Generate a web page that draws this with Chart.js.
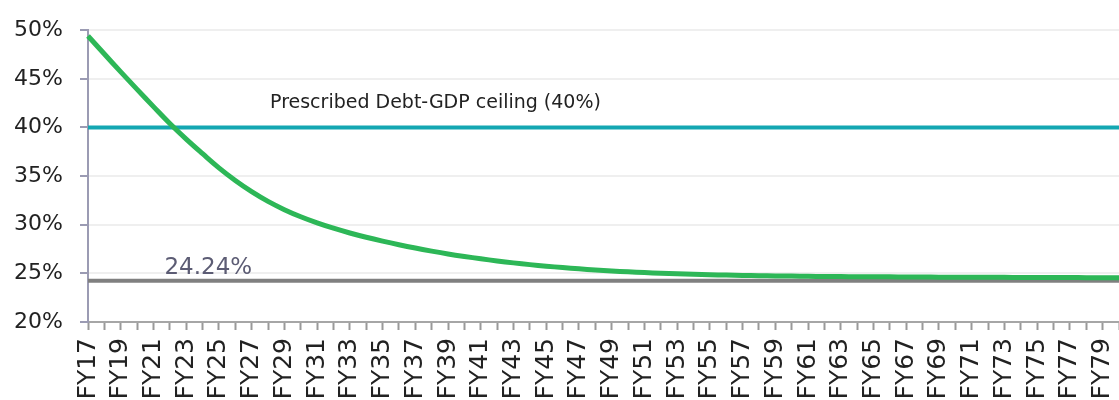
<!DOCTYPE html>
<html>
<head>
<meta charset="utf-8">
<script src="https://cdn.jsdelivr.net/npm/chart.js@4"></script>
<style>
  body { margin: 0; overflow: hidden; background: #fff; }
</style>
</head>
<body>
<canvas id="debtChart" width="1157" height="432"></canvas>
<script>
// Debt-GDP path, FY17 to FY80
const years = [
  'FY17','FY18','FY19','FY20','FY21','FY22','FY23','FY24','FY25','FY26',
  'FY27','FY28','FY29','FY30','FY31','FY32','FY33','FY34','FY35','FY36',
  'FY37','FY38','FY39','FY40','FY41','FY42','FY43','FY44','FY45','FY46',
  'FY47','FY48','FY49','FY50','FY51','FY52','FY53','FY54','FY55','FY56',
  'FY57','FY58','FY59','FY60','FY61','FY62','FY63','FY64','FY65','FY66',
  'FY67','FY68','FY69','FY70','FY71','FY72','FY73','FY74','FY75','FY76',
  'FY77','FY78','FY79','FY80'
];
const debtPath = [
  49.4, 47.55, 45.72, 43.92, 42.14, 40.4, 38.8, 37.3, 35.85, 34.55,
  33.4, 32.4, 31.55, 30.82, 30.19, 29.64, 29.15, 28.71, 28.31, 27.94,
  27.6, 27.29, 27.0, 26.74, 26.5, 26.28, 26.08, 25.9, 25.74, 25.6,
  25.47, 25.35, 25.25, 25.16, 25.08, 25.01, 24.95, 24.9, 24.86, 24.82,
  24.79, 24.76, 24.74, 24.72, 24.7, 24.68, 24.67, 24.66, 24.65, 24.64,
  24.63, 24.62, 24.61, 24.61, 24.6, 24.59, 24.59, 24.58, 24.58, 24.57,
  24.57, 24.56, 24.56, 24.55
];
const ceiling = 40;        // prescribed Debt-GDP ceiling
const steadyState = 24.24; // long run level
const yTicks = [20, 25, 30, 35, 40, 45, 50];

const FONT = 'DejaVu Sans';

// text notes next to the two flat lines
const notes = {
  id: 'notes',
  afterDatasetsDraw(chart) {
    const { ctx, scales: { x, y } } = chart;
    ctx.save();
    ctx.textAlign = 'left';
    ctx.textBaseline = 'alphabetic';
    ctx.fillStyle = '#222';
    ctx.font = '19px "' + FONT + '"';
    ctx.fillText('Prescribed Debt-GDP ceiling (' + ceiling + '%)',
      x.getPixelForValue(11) + 2, y.getPixelForValue(ceiling) - 19);
    ctx.fillStyle = '#5c5c74';
    ctx.font = '23px "' + FONT + '"';
    ctx.fillText(steadyState.toFixed(2) + '%',
      x.getPixelForValue(4) + 11, y.getPixelForValue(steadyState) - 7);
    ctx.restore();
  }
};

new Chart(document.getElementById('debtChart'), {
  type: 'line',
  data: {
    labels: years,
    datasets: [{
      data: debtPath,
      borderColor: '#2db757',
      borderWidth: 5,
      pointRadius: 0,
      tension: 0.4
    }, {
      data: years.map(() => ceiling),
      borderColor: '#14a7b2',
      borderWidth: 4,
      pointRadius: 0
    }, {
      data: years.map(() => steadyState),
      borderColor: '#808080',
      borderWidth: 4,
      pointRadius: 0
    }]
  },
  options: {
    responsive: false,
    animation: false,
    devicePixelRatio: 1,
    layout: { padding: { top: 25, right: 0, left: 0, bottom: 0 } },
    plugins: { legend: { display: false }, tooltip: { enabled: false } },
    scales: {
      x: {
        offset: false,
        grid: { drawOnChartArea: false, tickLength: 8, tickColor: '#999', tickWidth: 2 },
        border: { color: '#a6a6a6', width: 2 },
        ticks: {
          autoSkip: false,
          maxRotation: 90,
          minRotation: 90,
          padding: 8,
          color: '#222',
          font: { family: FONT, size: 25 },
          callback: (v, i) => (i % 2 === 0 ? years[i] : '')
        },
        afterFit: (axis) => { axis.height = 110; }
      },
      y: {
        min: 20,
        max: 50,
        grid: { color: '#efefef', lineWidth: 2, tickLength: 8, tickColor: '#9b9bb3', tickWidth: 2 },
        border: { color: '#9b9bb3', width: 2 },
        afterBuildTicks: (axis) => { axis.ticks = yTicks.map(v => ({ value: v })); },
        ticks: {
          padding: 17,
          color: '#222',
          font: { family: FONT, size: 22 },
          callback: (v) => v + '%'
        },
        afterFit: (axis) => { axis.width = 88; }
      }
    }
  },
  plugins: [notes]
});
</script>
</body>
</html>
